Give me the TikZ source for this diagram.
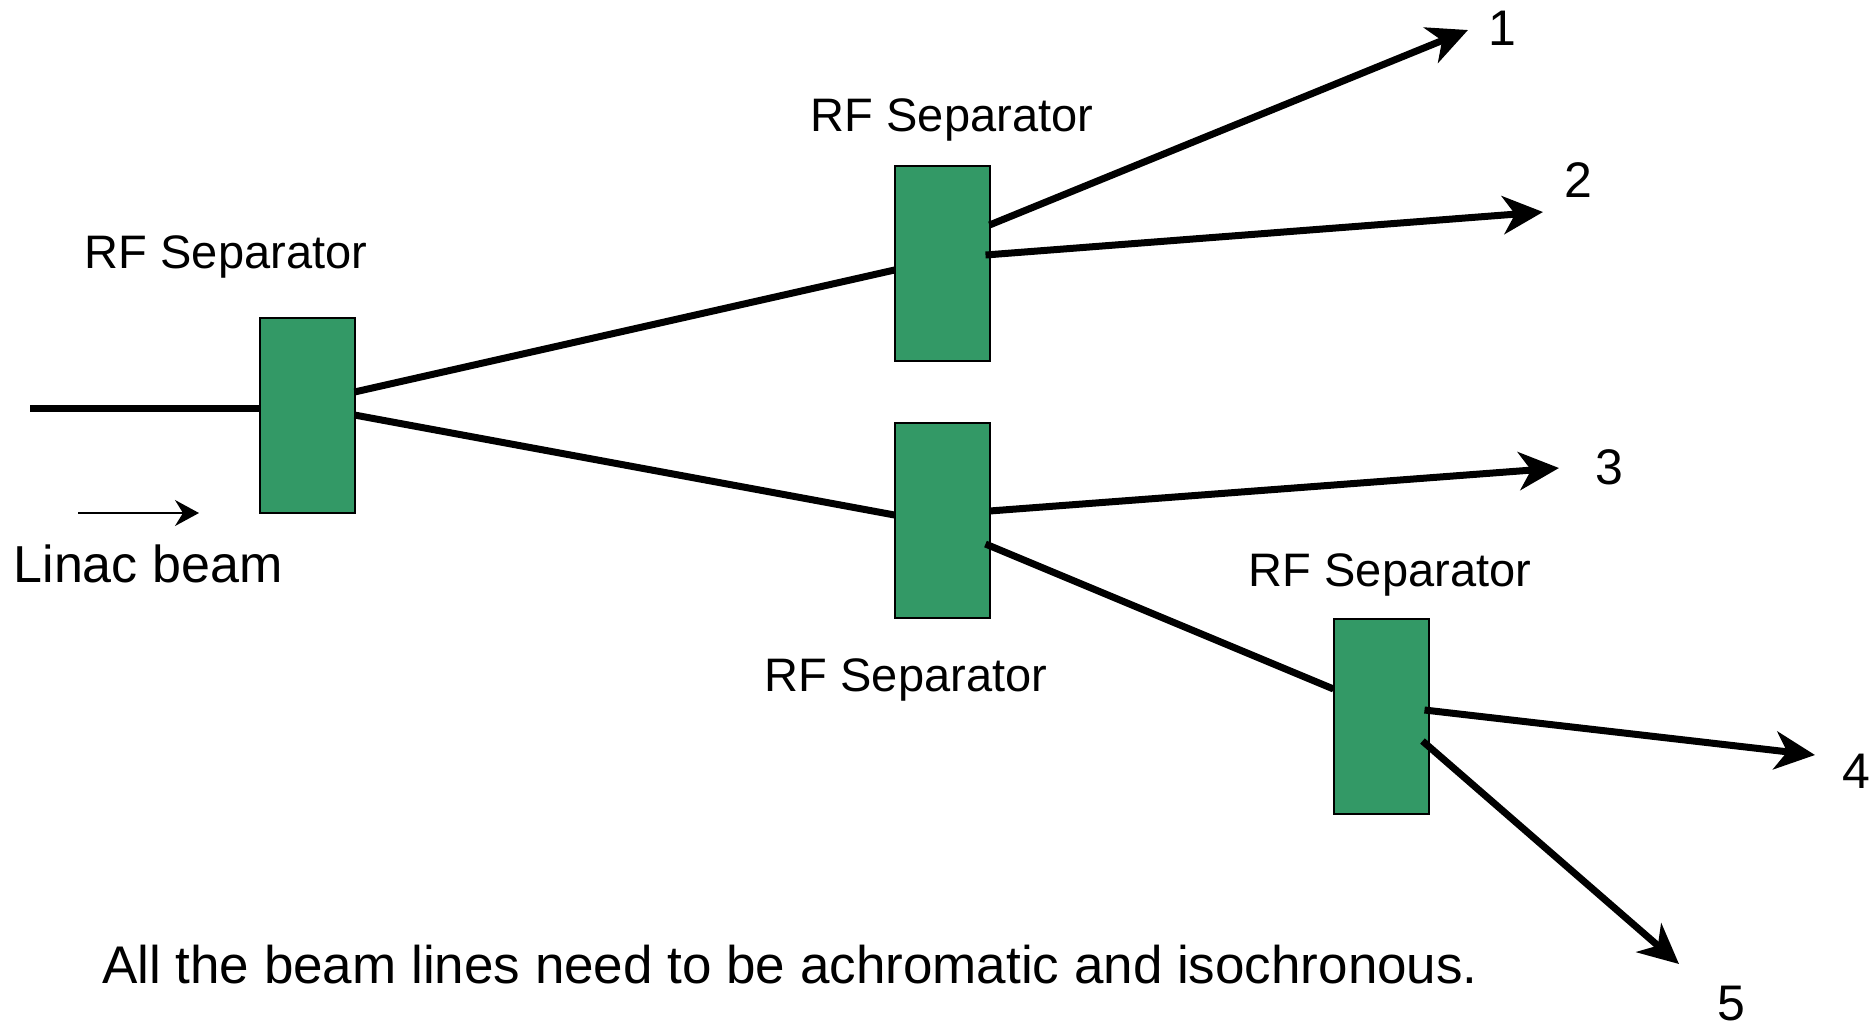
\documentclass[tikz,border=0pt]{standalone}
\usepackage{fontspec}
\setmainfont{Liberation Sans}
\usetikzlibrary{arrows.meta,calc}
\definecolor{sepgreen}{RGB}{51,153,102}
\begin{document}
\begin{tikzpicture}[x=0.5pt,y=-0.5pt,
  sepbox/.style={draw=black,line width=1pt,fill=sepgreen,minimum width=47.5pt,minimum height=97.5pt,inner sep=0pt,outer sep=0pt},
  beam/.style={line width=3.5pt,line cap=butt},
  beamarrow/.style={beam,-{Stealth[length=20pt,width=19pt,inset=6pt]}},
  lbl/.style={font=\fontsize{23.5}{28}\selectfont,anchor=base,inner sep=0pt},
  numlbl/.style={font=\fontsize{25}{30}\selectfont,anchor=base,inner sep=0pt}]
\useasboundingbox (0,0) rectangle (1875,1030);
% separators
\node[sepbox] (b1) at (307,415) {};
\node[sepbox] (b2) at (942,263) {};
\node[sepbox] (b3) at (942,520) {};
\node[sepbox] (b4) at (1381,716) {};
% end points
\coordinate (in) at (30,408);
\coordinate (t1) at (1468,30);
\coordinate (t2) at (1543,212);
\coordinate (t3) at (1559,468);
\coordinate (t4) at (1815,755);
\coordinate (t5) at (1679,964);
% beam lines
\draw[beam] (in) -- ($(b1.west)+(0,-7)$);
\draw[beam] ($(b1.east)+(0,-23)$) -- ($(b2.west)+(0,7)$);
\draw[beam] ($(b1.east)+(0,0)$) -- ($(b3.west)+(0,-5)$);
\draw[beamarrow] ($(b2.east)+(0,-38)$) -- (t1);
\draw[beamarrow] ($(b2.east)+(-4,-8)$) -- (t2);
\draw[beamarrow] ($(b3.east)+(0,-9)$) -- (t3);
\draw[beam] ($(b3.east)+(-4,24)$) -- ($(b4.west)+(0,-27)$);
\draw[beamarrow] ($(b4.east)+(-4,-6)$) -- (t4);
\draw[beamarrow] ($(b4.east)+(-6,25)$) -- (t5);
% linac direction arrow
\coordinate (la0) at (78,513);
\coordinate (la1) at (199,513);
\draw[line width=1pt,-{Stealth[length=12pt,width=13pt,inset=4pt]}] (la0) -- (la1);
% labels
\node[lbl] (l1) at (226,268) {RF Separator};
\node[lbl] (l2) at (952,131) {RF Separator};
\node[lbl] (l3) at (906,691) {RF Separator};
\node[lbl] (l4) at (1390,586) {RF Separator};
\node[font=\fontsize{26}{31}\selectfont,anchor=base,inner sep=0pt] (linac) at (148,582) {Linac beam};
\node[numlbl] (n1) at (1502,45) {1};
\node[numlbl] (n2) at (1578,197) {2};
\node[numlbl] (n3) at (1609,484) {3};
\node[numlbl] (n4) at (1856,788) {4};
\node[numlbl] (n5) at (1731,1020) {5};
\node[font=\fontsize{26.5}{32}\selectfont,anchor=base,inner sep=0pt] (note) at (790,983) {All the beam lines need to be achromatic and isochronous.};
\end{tikzpicture}
\end{document}
